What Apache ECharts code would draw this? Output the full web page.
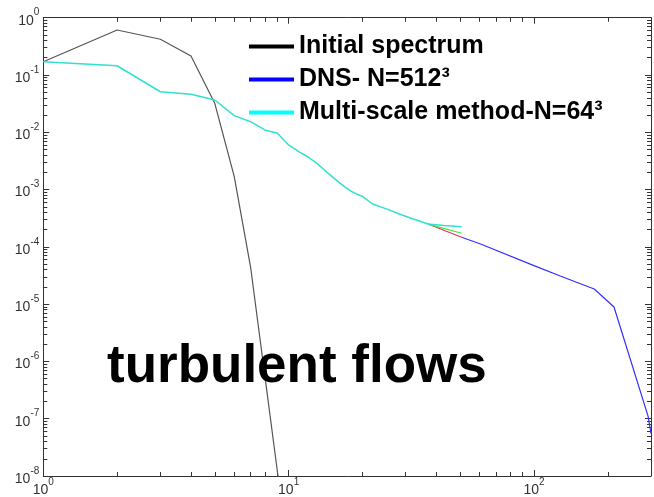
<!DOCTYPE html>
<html>
<head>
<meta charset="utf-8">
<script src="https://cdn.jsdelivr.net/npm/echarts@6/dist/echarts.min.js"></script>
<style>
html, body { margin: 0; padding: 0; background: #fff; }
#chart { width: 654px; height: 497px; }
</style>
</head>
<body>
<div id="chart"></div>
<script>
// wavenumber k / energy E(k)
var initialK = [1, 2, 3, 4, 5, 6, 7, 8, 9, 10];
var initialE = [0.17, 0.61, 0.42, 0.215, 0.032, 1.7e-3, 4.4e-5, 5.6e-7, 1.2e-8, 4e-10];

var multiK = [1, 2, 3, 4, 5, 6, 7, 8, 9, 10, 11, 12, 13, 14, 15, 16, 17, 18, 19, 20, 22, 25, 29, 32, 37, 43, 50.7];
var multiE = [0.17, 0.145, 0.051, 0.046, 0.0366, 0.0195, 0.0153, 0.011, 0.0096, 0.006, 0.0046, 0.0037, 0.0029, 0.0022,
    0.0017, 0.00135, 0.0011, 0.00093, 0.00083, 0.00076, 0.00056, 0.00046, 0.00036, 0.00031, 0.00025, 0.000235, 0.000224];

var dnsK = [50.7, 60.6, 100, 128, 176, 184, 212, 292, 300];
var dnsE = [1.47e-4, 1.12e-4, 4.7e-5, 3.1e-5, 1.84e-5, 1.55e-5, 8.9e-6, 1.1e-7, 5.5e-8];

var redK = [37, 50.7];
var redE = [2.5e-4, 1.47e-4];
var greenK = [37, 50.7];
var greenE = [2.5e-4, 1.73e-4];

var legendNames = ["Initial spectrum", "DNS- N=512³", "Multi-scale method-N=64³"];
var legendColors = ["#000000", "#0000ff", "#00ffff"];

var xMin = 1, xMax = 300;
var yMin = 1e-8, yMax = 1;

function pairs(xs, ys) {
    return xs.map(function(x, i) { return [x, ys[i]]; });
}

// minor tick positions (in decade units) for the decoration axes
var xMinor = [];
[1, 10, 100].forEach(function(d) {
    for (var m = 2; m <= 9; m++) {
        if (m * d < xMax) xMinor.push(Math.log10(m * d));
    }
});
var yMinor = [];
for (var d = -8; d < 0; d++) {
    for (var m = 2; m <= 9; m++) yMinor.push(d + Math.log10(m));
}

var font = "Liberation Sans";
var axisColor = "#333";

function powLabel(v) {
    var e = Math.log10(v);
    var r = Math.round(e);
    if (Math.abs(e - r) > 1e-6) return "";
    return "{b|10}{s|" + r + "}";
}
var labelRich = {
    b: { fontSize: 14, lineHeight: 20, verticalAlign: "bottom", color: "#333", fontFamily: font },
    s: { fontSize: 10, lineHeight: 10, verticalAlign: "top", color: "#333", fontFamily: font }
};

function majorAxis(pos, min, max, withLabel, margin) {
    return {
        type: "log", logBase: 10, min: min, max: max, position: pos,
        axisLine: { show: true, onZero: false, lineStyle: { color: axisColor, width: 1 } },
        axisTick: { show: true, inside: true, length: 6, lineStyle: { color: axisColor, width: 1 } },
        axisLabel: withLabel ? {
            show: true, margin: margin, formatter: powLabel, rich: labelRich,
            showMinLabel: true, showMaxLabel: true
        } : { show: false },
        splitLine: { show: false }
    };
}
function minorAxis(pos, min, max, values) {
    return {
        type: "value", min: min, max: max, position: pos,
        axisLine: { show: false, onZero: false },
        axisTick: { show: true, inside: true, length: 4, customValues: values, lineStyle: { color: axisColor, width: 1 } },
        axisLabel: { show: false },
        splitLine: { show: false }
    };
}

var myChart = echarts.init(document.getElementById("chart"));
var option = {
    animation: false,
    backgroundColor: "#fff",
    grid: { left: 43.3, right: 1.3, top: 17.7, bottom: 21 },
    xAxis: [
        majorAxis("bottom", xMin, xMax, true, 1),
        majorAxis("top", xMin, xMax, false),
        minorAxis("bottom", 0, Math.log10(xMax), xMinor),
        minorAxis("top", 0, Math.log10(xMax), xMinor)
    ],
    yAxis: [
        majorAxis("left", yMin, yMax, true, 4),
        majorAxis("right", yMin, yMax, false),
        minorAxis("left", -8, 0, yMinor),
        minorAxis("right", -8, 0, yMinor)
    ],
    legend: {
        orient: "vertical", left: 249, top: 34, itemGap: 8, padding: 0,
        itemWidth: 45, itemHeight: 4, icon: "rect", selectedMode: false,
        textStyle: { fontSize: 25, fontWeight: "bold", fontFamily: font, color: "#000" },
        data: legendNames.map(function(n, i) {
            return { name: n, itemStyle: { color: legendColors[i], borderWidth: 0 } };
        })
    },
    graphic: [{
        type: "text", left: 107, top: 341, z: 100,
        style: { text: "turbulent flows", font: 'bold 53px "Liberation Sans"', fill: "#000" }
    }],
    series: [
        { name: legendNames[0], type: "line", data: pairs(initialK, initialE), symbol: "none", lineStyle: { color: "#555", width: 1.2 }, itemStyle: { color: "#555" } },
        { name: legendNames[1], type: "line", data: pairs(dnsK, dnsE), symbol: "none", lineStyle: { color: "#3030ff", width: 1.2 }, itemStyle: { color: "#3030ff" } },
        { name: "red", type: "line", data: pairs(redK, redE), symbol: "none", lineStyle: { color: "#e8305a", width: 1.2 } },
        { name: "green", type: "line", data: pairs(greenK, greenE), symbol: "none", lineStyle: { color: "#40e040", width: 1.2 } },
        { name: legendNames[2], type: "line", data: pairs(multiK, multiE), symbol: "none", lineStyle: { color: "#30e0d0", width: 1.5 }, itemStyle: { color: "#30e0d0" } }
    ]
};
myChart.setOption(option);
</script>
</body>
</html>
